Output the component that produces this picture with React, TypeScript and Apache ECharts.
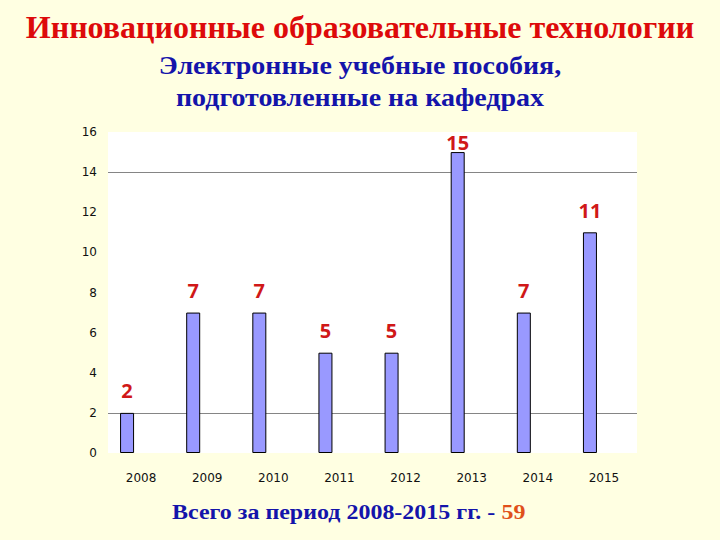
import React, { useEffect, useRef } from "react";
import * as echarts from "echarts";

const years = ["2008", "2009", "2010", "2011", "2012", "2013", "2014", "2015"];
const manuals = [2, 7, 7, 5, 5, 15, 7, 11];
const yTicks = [0, 2, 4, 6, 8, 10, 12, 14, 16];
const gridLineTicks = [2, 14];
const titleText = "Инновационные образовательные технологии";
const subtitleLines = ["Электронные учебные пособия,", "подготовленные на кафедрах"];
const totalPrefix = "Всего за период 2008-2015 гг. - ";
const totalValue = "59";

export default function App() {
  const ref = useRef<HTMLDivElement>(null);
  useEffect(() => {
    if (!ref.current) return;
    const chart = echarts.init(ref.current, null, { renderer: "svg" });
    const splitColors = yTicks.map((t) => (gridLineTicks.includes(t) ? "#858585" : "rgba(0,0,0,0)"));
    chart.setOption({
      animation: false,
      backgroundColor: "#ffffe2",
      grid: {
        left: 108,
        right: 83,
        top: 132,
        bottom: 87,
        show: true,
        backgroundColor: "#ffffff",
        borderWidth: 0,
      },
      xAxis: {
        type: "category",
        data: years,
        axisLine: { show: false },
        axisTick: { show: false },
        axisLabel: {
          margin: 19,
          color: "#111",
          fontSize: 12,
          fontFamily: "DejaVu Sans",
        },
      },
      yAxis: {
        type: "value",
        min: yTicks[0],
        max: yTicks[yTicks.length - 1],
        interval: 2,
        axisLine: { show: false },
        axisTick: { show: false },
        axisLabel: {
          margin: 11,
          color: "#111",
          fontSize: 12,
          fontFamily: "DejaVu Sans",
        },
        splitLine: { show: true, lineStyle: { color: splitColors, width: 1 } },
      },
      series: [
        {
          type: "bar",
          barWidth: 14,
          barGap: "100%",
          data: manuals.map((v) => ({
            value: v,
            label: { distance: v >= 15 ? 0 : 12 },
          })),
          itemStyle: { color: "#9999ff", borderColor: "#000", borderWidth: 1 },
          label: {
            show: true,
            position: "top",
            color: "#d01818",
            fontSize: 20,
            fontWeight: "bold",
            fontFamily: "Open Sans",
          },
        },
        {
          type: "bar",
          barWidth: 14,
          data: manuals.map(() => null),
        },
      ],
      graphic: [
        {
          type: "text",
          x: 360,
          y: 27,
          style: {
            text: titleText,
            x: 0,
            y: 0,
            align: "center",
            verticalAlign: "middle",
            fill: "#dd0a0a",
            font: "bold 32px 'Liberation Serif'",
          },
        },
        {
          type: "text",
          x: 360,
          y: 66,
          scaleX: 1.12,
          style: {
            text: subtitleLines[0],
            x: 0,
            y: 0,
            align: "center",
            verticalAlign: "middle",
            fill: "#1414aa",
            font: "bold 25px 'Liberation Serif'",
          },
        },
        {
          type: "text",
          x: 360,
          y: 98,
          scaleX: 1.12,
          style: {
            text: subtitleLines[1],
            x: 0,
            y: 0,
            align: "center",
            verticalAlign: "middle",
            fill: "#1414aa",
            font: "bold 25px 'Liberation Serif'",
          },
        },
        {
          type: "text",
          x: 172,
          y: 511,
          scaleX: 1.09,
          style: {
            text: "{a|" + totalPrefix + "}{b|" + totalValue + "}",
            x: 0,
            y: 0,
            align: "left",
            verticalAlign: "middle",
            rich: {
              a: { fill: "#1414aa", fontSize: 22, fontWeight: "bold", fontFamily: "Liberation Serif" },
              b: { fill: "#e0501a", fontSize: 22, fontWeight: "bold", fontFamily: "Liberation Serif" },
            },
          },
        },
      ],
    });
    return () => chart.dispose();
  }, []);
  return (
    <div
      ref={ref}
      style={{ position: "fixed", left: 0, top: 0, width: 720, height: 540 }}
    />
  );
}
